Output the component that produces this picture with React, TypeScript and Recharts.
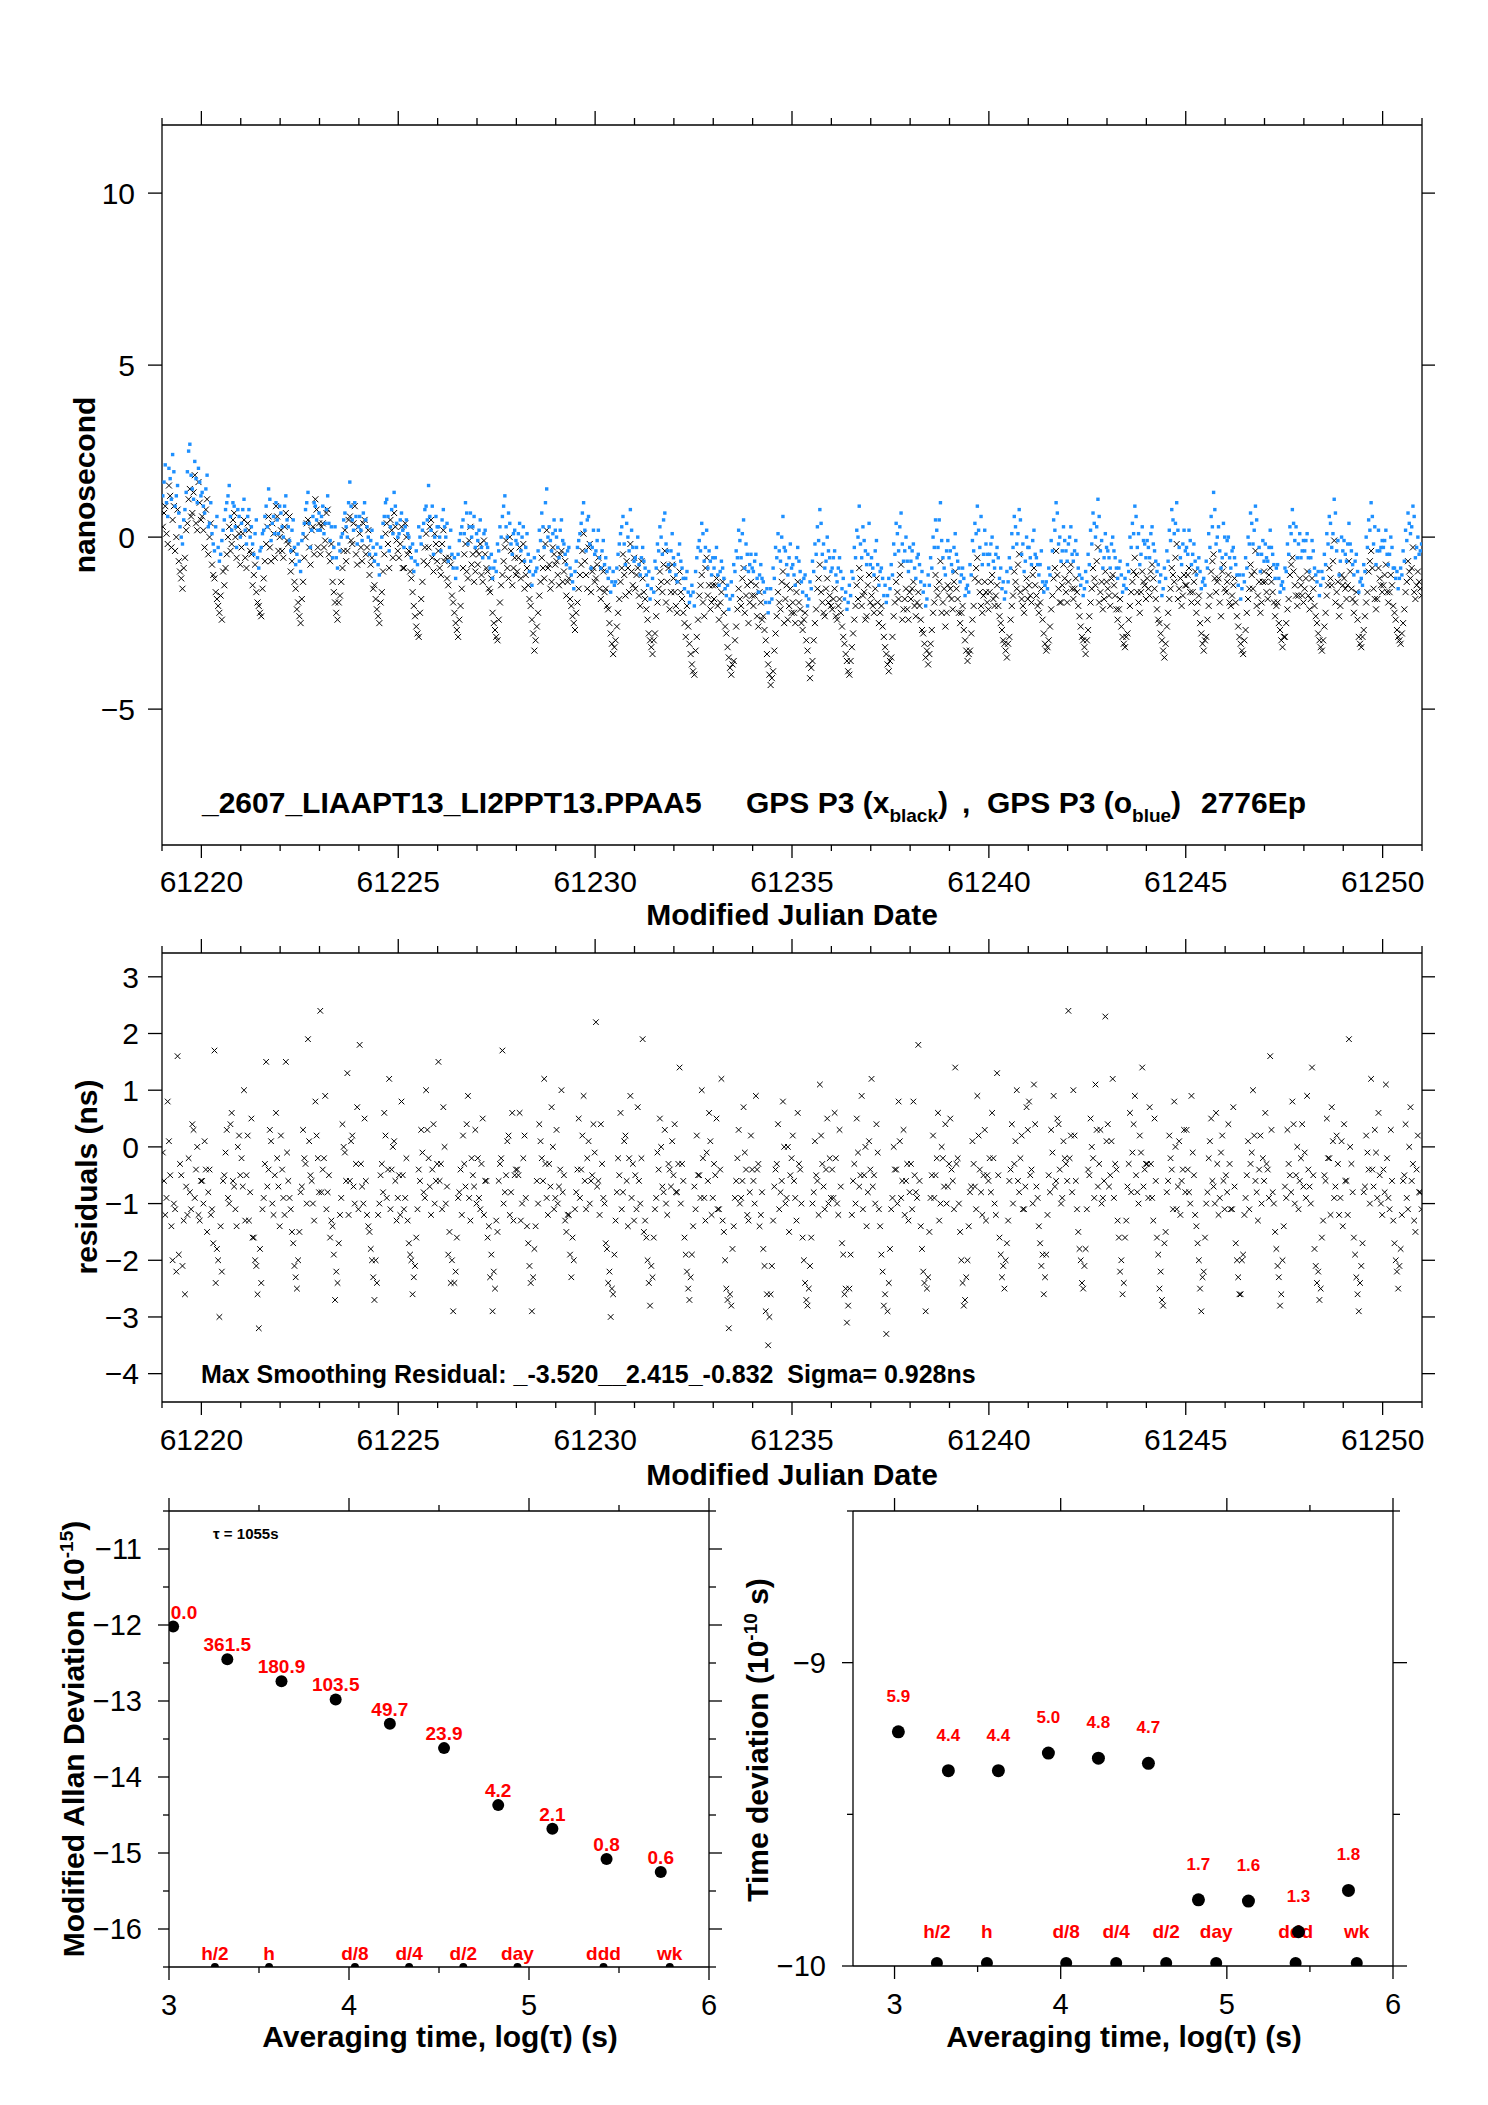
import React from "react";
import { ScatterChart, Scatter, XAxis, YAxis } from "recharts";

const FONT = "'Liberation Sans', Arial, Helvetica, sans-serif";
const BLUE = "#1e90ff";
const RED = "#ff0000";

// sampled epochs: first epoch (MJD) and spacing (1.5 h); the "B" sets sit half a step later
const MJD0 = 61219.02;
const STEP = 1 / 16;

// GPS P3 (x, black), ns — one row per day
const gpsBlack = [
  0.3, 0.9, -0.2, 1.2, 0.5, -0.4, 0.8, -1.0, -1.5, -0.6, 0.4, 1.4, 0.7, 1.8, 0.2, 1.0,
  0.6, -0.3, 1.1, 0.0, -0.8, -1.2, -1.8, -2.2, -2.4, -1.4, -0.5, 0.3, -0.2, 0.7, -0.6, 0.1,
  -0.3, 0.5, -0.9, 0.2, -0.5, -1.1, -1.6, -2.0, -2.3, -1.2, -0.2, 0.6, -0.7, 0.1, 0.9, -0.4,
  0.2, -0.6, 0.7, -0.2, -1.0, -0.4, -1.5, -1.9, -2.5, -1.3, 0.0, 0.5, -0.8, 0.3, 1.1, -0.3,
  -0.5, 0.4, -0.1, 0.8, -0.7, -1.3, -1.9, -2.4, -1.7, -0.9, 0.2, -0.4, 0.6, -0.2, 0.9, -0.8,
  0.1, -0.7, 0.5, -0.3, -1.1, -0.6, -1.4, -2.1, -2.5, -1.6, -0.5, 0.4, -0.9, 0.2, 0.7, -0.1,
  -0.6, 0.3, -0.9, 0.0, -0.4, -1.2, -2.0, -2.6, -2.9, -1.8, -0.7, 0.1, -0.3, 0.5, -1.0, -0.2,
  -0.4, -1.1, 0.2, -0.6, -1.4, -0.8, -1.9, -2.5, -2.9, -2.0, -0.9, -0.2, -1.2, 0.3, -0.5, -1.0,
  -0.8, -0.2, -1.3, -0.5, -1.0, -1.6, -2.2, -2.7, -3.0, -1.9, -1.1, -0.3, -0.9, 0.0, -1.4, -0.6,
  -1.0, -0.3, -0.7, -1.5, -0.9, -1.8, -2.4, -3.3, -2.6, -1.7, -0.6, -1.2, 0.2, -0.8, -1.3, -0.5,
  -0.7, -1.4, -0.4, -1.0, -1.7, -1.2, -2.0, -2.5, -2.2, -1.5, -0.8, 0.1, -1.1, -0.3, -1.6, -0.9,
  -1.2, -0.6, -1.8, -1.0, -1.5, -2.1, -2.8, -3.4, -3.0, -2.2, -1.3, -0.5, -1.7, -0.9, -0.2, -1.4,
  -1.5, -0.9, -2.0, -1.2, -1.8, -2.4, -3.0, -3.4, -2.8, -1.9, -1.0, -1.6, -0.4, -1.3, -2.1, -0.8,
  -1.6, -2.2, -1.0, -1.8, -2.5, -2.0, -3.1, -3.7, -4.0, -2.9, -1.7, -1.1, -2.3, -0.6, -1.4, -1.9,
  -1.8, -1.2, -2.4, -1.6, -2.2, -2.8, -3.5, -4.0, -3.6, -2.6, -1.5, -2.0, -0.9, -1.7, -2.5, -1.3,
  -2.0, -1.4, -2.6, -1.9, -2.3, -3.0, -3.7, -4.3, -3.9, -2.8, -1.6, -2.1, -1.0, -1.8, -2.4, -1.5,
  -1.9, -2.5, -1.3, -2.1, -2.7, -2.2, -3.3, -4.1, -3.6, -2.5, -1.5, -0.8, -1.9, -2.3, -1.2, -1.7,
  -2.1, -1.5, -2.4, -1.8, -2.6, -3.1, -3.6, -4.0, -3.2, -2.4, -1.4, -0.9, -2.0, -1.6, -2.3, -1.1,
  -1.7, -2.2, -1.2, -2.5, -2.0, -2.9, -3.4, -3.9, -3.5, -2.3, -1.3, -1.8, -0.8, -2.1, -1.5, -2.4,
  -1.8, -1.3, -2.3, -1.6, -2.4, -2.8, -3.5, -3.7, -3.1, -2.2, -1.1, -1.7, -0.7, -1.9, -2.6, -1.4,
  -1.5, -2.1, -1.0, -1.8, -2.5, -2.0, -3.0, -3.6, -3.3, -2.4, -1.2, -0.6, -1.6, -2.2, -1.3, -1.9,
  -1.6, -1.1, -2.0, -1.4, -2.3, -2.7, -3.1, -3.5, -2.9, -2.0, -1.0, -1.5, -0.5, -1.8, -2.2, -1.2,
  -1.4, -1.9, -0.9, -1.7, -2.2, -1.5, -2.8, -3.3, -3.0, -2.1, -1.2, -0.4, -1.5, -1.9, -0.8, -1.6,
  -1.3, -0.8, -1.8, -1.2, -2.0, -2.6, -3.0, -3.4, -2.7, -1.9, -0.9, -1.4, -0.3, -1.6, -2.1, -1.0,
  -1.5, -2.0, -1.1, -1.7, -2.4, -1.8, -2.9, -3.2, -2.8, -2.0, -1.3, -0.6, -1.6, -2.2, -1.0, -1.4,
  -1.2, -1.7, -0.8, -1.5, -2.1, -2.5, -3.0, -3.5, -2.6, -1.8, -0.9, -1.3, -0.2, -1.5, -2.0, -1.1,
  -1.4, -0.9, -1.9, -1.3, -2.2, -1.7, -2.8, -3.3, -2.9, -2.0, -1.0, -0.5, -1.6, -1.2, -2.3, -0.8,
  -1.6, -1.1, -2.0, -1.4, -1.9, -2.6, -3.1, -3.4, -2.7, -1.8, -0.8, -1.5, -0.4, -1.7, -2.2, -1.3,
  -1.3, -1.8, -0.9, -1.6, -2.3, -1.9, -2.7, -3.2, -2.9, -2.1, -1.1, -0.6, -1.4, -2.0, -1.2, -1.7,
  -1.5, -1.0, -2.1, -1.2, -2.0, -2.5, -3.0, -3.3, -2.6, -1.7, -0.9, -1.4, -0.1, -1.6, -2.3, -1.1,
  -1.2, -1.8, -0.7, -1.5, -2.2, -1.6, -2.9, -3.2, -2.7, -1.9, -1.0, -0.4, -1.5, -2.1, -0.9, -1.4,
  -1.4, -0.8, -1.9, -1.1, -2.0, -2.4, -2.9, -3.1, -2.5, -1.6, -0.7, -1.2, -0.3, -1.8, -1.0, -1.5,
];
const gpsBlackB = [
  0.7, 0.1, 1.5, -0.3, 0.9, 0.0, -0.7, -1.2, -0.9, 0.2, 1.1, 0.6, 1.3, 0.4, 1.6, 0.5,
  0.2, 0.8, -0.5, 0.4, -1.1, -1.6, -2.0, -1.7, -1.0, -0.9, 0.0, -0.4, 0.5, 0.0, 0.3, -0.8,
  0.1, -0.6, 0.4, -0.4, -1.4, -0.8, -1.9, -2.2, -1.5, -0.7, 0.3, -0.3, 0.4, -0.6, 0.6, 0.0,
  -0.4, 0.3, -0.1, 0.6, -0.7, -1.3, -2.1, -2.3, -1.8, -0.6, 0.4, -0.3, 0.2, -0.5, 0.8, 0.4,
  0.3, -0.3, 0.7, -0.5, -0.2, -1.6, -2.2, -1.9, -1.3, -0.4, -0.7, 0.5, -0.1, 0.4, -0.5, 0.3,
  -0.3, 0.4, -0.5, 0.2, -0.8, -1.5, -1.8, -2.3, -1.9, -1.0, 0.1, -0.2, 0.5, -0.6, 0.3, -0.4,
  -0.2, -0.9, 0.4, -0.5, -1.0, -1.6, -2.3, -2.8, -2.2, -1.3, -0.3, -0.8, 0.3, -0.6, 0.1, -0.7,
  -0.9, -0.2, -0.7, -1.2, -0.6, -1.7, -2.2, -2.7, -2.4, -1.5, -0.5, -1.0, -0.1, -0.8, -1.3, -0.4,
  -0.5, -1.1, -0.1, -0.9, -1.5, -1.2, -2.5, -2.9, -2.4, -1.4, -0.7, -0.1, -1.2, -0.4, -0.9, -1.1,
  -0.6, -1.2, -0.2, -1.1, -1.4, -2.0, -2.8, -3.0, -2.2, -1.3, -0.9, -0.2, -0.9, -1.5, -0.3, -0.8,
  -1.1, -0.5, -1.3, -0.7, -1.3, -1.8, -2.3, -2.7, -1.9, -1.1, -0.4, -0.7, -1.5, -0.2, -1.0, -1.3,
  -0.8, -1.5, -0.9, -1.6, -2.0, -2.5, -3.1, -3.2, -2.6, -1.8, -0.9, -1.1, -0.7, -1.6, -1.0, -0.6,
  -1.1, -1.7, -0.7, -1.6, -2.1, -2.8, -3.2, -3.0, -2.3, -1.5, -1.3, -0.8, -1.9, -0.9, -1.6, -1.2,
  -2.0, -1.3, -1.6, -2.2, -2.9, -2.6, -3.4, -3.9, -3.3, -2.4, -1.4, -1.9, -0.9, -1.7, -2.1, -1.4,
  -1.4, -2.0, -1.9, -1.3, -2.6, -3.2, -3.8, -3.7, -3.0, -2.1, -1.8, -1.2, -2.2, -1.4, -1.9, -1.7,
  -1.7, -2.3, -1.6, -2.4, -2.7, -3.4, -4.0, -4.1, -3.3, -2.3, -1.9, -1.3, -2.5, -1.4, -2.0, -2.2,
  -2.2, -1.6, -1.9, -2.5, -2.4, -3.0, -3.7, -3.8, -3.0, -2.1, -1.2, -1.6, -2.2, -1.5, -1.9, -2.0,
  -1.8, -2.3, -2.0, -2.2, -2.9, -3.4, -3.9, -3.6, -2.8, -2.0, -1.8, -1.2, -1.7, -2.4, -1.4, -1.9,
  -2.0, -1.5, -1.9, -2.2, -2.6, -3.2, -3.7, -3.6, -2.9, -1.9, -1.6, -1.1, -2.4, -1.8, -2.1, -1.6,
  -1.5, -2.0, -1.9, -2.0, -2.7, -3.1, -3.3, -3.4, -2.7, -1.9, -1.5, -1.3, -2.2, -1.5, -2.2, -1.7,
  -1.8, -1.3, -1.5, -2.2, -2.2, -2.7, -3.3, -3.4, -2.8, -2.0, -0.9, -1.3, -2.0, -1.7, -1.6, -2.1,
  -1.3, -1.8, -1.7, -2.0, -2.5, -3.0, -3.3, -3.1, -2.4, -1.7, -1.3, -0.8, -1.6, -2.0, -1.5, -1.8,
  -1.7, -1.1, -1.4, -2.0, -1.9, -2.4, -3.1, -3.2, -2.6, -1.7, -0.9, -1.1, -1.9, -1.4, -1.2, -1.9,
  -1.0, -1.5, -1.5, -1.6, -2.3, -2.9, -3.2, -3.0, -2.3, -1.5, -1.2, -0.7, -1.9, -1.3, -1.8, -1.3,
  -1.7, -1.2, -1.4, -2.1, -2.1, -2.6, -3.1, -2.9, -2.4, -1.6, -1.0, -1.1, -1.9, -1.6, -1.3, -1.8,
  -1.5, -1.0, -1.2, -1.8, -2.4, -2.8, -3.3, -3.1, -2.2, -1.5, -1.1, -0.6, -1.8, -1.2, -1.7, -1.4,
  -1.1, -1.6, -1.6, -1.0, -1.9, -2.5, -3.1, -3.0, -2.4, -1.7, -0.7, -1.2, -1.3, -1.9, -1.0, -1.5,
  -1.3, -1.9, -1.7, -1.2, -2.3, -2.9, -3.3, -3.0, -2.2, -1.5, -1.1, -1.0, -2.0, -1.3, -1.9, -1.0,
  -1.6, -1.1, -1.3, -1.9, -2.0, -2.5, -3.0, -2.9, -2.5, -1.8, -0.8, -1.0, -1.7, -1.7, -1.4, -1.9,
  -1.2, -1.7, -1.8, -1.5, -2.3, -2.8, -3.2, -3.0, -2.2, -1.4, -1.2, -0.7, -1.9, -1.3, -2.0, -1.4,
  -1.5, -1.4, -1.0, -1.8, -1.9, -2.4, -3.1, -2.9, -2.3, -1.6, -0.7, -0.9, -1.8, -1.8, -1.2, -1.6,
  -1.1, -1.6, -1.6, -1.4, -2.2, -2.7, -3.0, -2.8, -2.1, -1.3, -1.0, -0.9, -1.6, -1.4, -1.3, -1.7,
];

// GPS P3 (o, blue), ns — one row per day
const gpsBlue = [
  1.2, 2.1, 0.6, 1.7, 2.4, 0.9, 1.5, 0.3, -0.2, 0.8, 1.9, 2.7, 1.4, 2.2, 1.0, 1.6,
  1.3, 0.7, 1.8, 0.4, 0.1, -0.4, 0.6, -0.7, -0.1, 0.5, 1.0, 1.5, 0.2, 0.9, -0.3, 0.6,
  0.4, 1.1, -0.2, 0.8, 0.3, -0.5, 0.5, -0.9, -0.3, 0.2, 0.9, 1.4, -0.1, 0.6, 1.0, 0.1,
  0.7, 0.0, 1.2, 0.3, -0.4, 0.5, -0.8, -0.2, -1.0, 0.1, 0.8, 1.3, -0.3, 0.6, 0.9, 0.2,
  0.2, 0.9, 0.4, 1.2, -0.1, -0.6, 0.3, -0.9, -0.4, 0.1, 0.7, 0.0, 1.6, 0.5, 1.0, -0.2,
  0.6, -0.1, 1.0, 0.3, -0.5, 0.2, -0.7, -0.2, -1.1, 0.0, 0.6, 1.1, -0.4, 0.8, 1.3, 0.4,
  0.1, 0.7, -0.3, 0.5, 0.0, -0.6, -1.0, -0.4, 0.3, -0.2, 0.4, 0.9, 1.5, 0.2, -0.5, 0.6,
  0.3, -0.4, 0.8, 0.0, -0.7, 0.2, -0.9, -1.2, -0.5, 0.1, 0.5, 1.0, -0.2, 0.7, 0.3, -0.3,
  -0.1, 0.5, -0.6, 0.2, -0.3, -0.9, -1.2, -0.7, -0.2, 0.3, 0.6, 1.2, 0.0, 0.4, -0.5, 0.2,
  -0.2, 0.4, 0.0, -0.7, 0.1, -1.0, -1.4, -0.6, -0.9, 0.2, 0.7, -0.3, 1.4, 0.3, -0.4, 0.5,
  0.0, -0.6, 0.5, -0.2, -0.8, -0.3, -1.1, -1.5, -0.7, -0.1, 0.4, 1.0, -0.4, 0.6, -0.9, 0.2,
  -0.4, 0.2, -0.9, -0.1, -0.6, -1.2, -1.6, -1.0, -1.3, -0.5, 0.1, 0.6, -0.8, 0.0, 0.8, -0.3,
  -0.6, 0.0, -1.1, -0.3, -0.9, -1.4, -1.8, -1.2, -0.7, -0.2, 0.3, -0.5, 0.7, -0.4, -1.0, 0.1,
  -0.8, -1.3, -0.2, -0.9, -1.5, -1.0, -1.9, -1.4, -2.0, -0.6, -0.1, 0.4, -0.7, 0.2, -0.4, -1.1,
  -0.9, -0.3, -1.4, -0.7, -1.2, -1.7, -2.1, -1.3, -0.8, -0.4, 0.2, -0.6, 0.5, -0.2, -1.0, -0.5,
  -1.0, -0.5, -1.6, -0.8, -1.3, -1.9, -2.2, -1.5, -0.9, -0.3, 0.1, -0.7, 0.6, -0.4, -1.1, -0.2,
  -0.8, -1.4, -0.3, -1.0, -1.6, -1.1, -2.0, -1.3, -0.7, -0.2, 0.3, 0.8, -0.5, -0.9, 0.0, -0.6,
  -0.9, -0.4, -1.3, -0.6, -1.5, -1.8, -2.1, -1.4, -1.0, -0.3, 0.2, 0.9, -0.6, -0.1, -0.8, 0.4,
  -0.6, -1.1, -0.1, -1.4, -0.9, -1.7, -1.9, -1.2, -0.8, -0.2, 0.4, -0.4, 0.7, -0.7, 0.0, -1.0,
  -0.7, -0.2, -1.2, -0.5, -1.3, -1.6, -2.0, -1.1, -0.6, 0.0, 0.5, -0.3, 1.0, -0.6, -1.1, -0.1,
  -0.4, -1.0, 0.1, -0.7, -1.3, -0.9, -1.7, -1.4, -0.8, -0.1, 0.4, 0.9, -0.3, -0.8, 0.2, -0.5,
  -0.5, 0.0, -0.9, -0.3, -1.2, -1.5, -1.8, -1.0, -0.6, 0.1, 0.6, -0.2, 0.8, -0.5, -1.0, 0.0,
  -0.3, -0.8, 0.2, -0.6, -1.1, -0.4, -1.6, -1.3, -0.9, -0.1, 0.5, 1.0, -0.2, -0.7, 0.3, -0.4,
  -0.2, 0.3, -0.7, -0.1, -0.9, -1.4, -1.7, -1.0, -0.5, 0.2, 0.7, 0.0, 1.1, -0.4, -0.9, 0.1,
  -0.4, -0.9, 0.0, -0.6, -1.2, -0.7, -1.6, -1.2, -0.8, 0.0, 0.4, 0.9, -0.3, -0.8, 0.3, -0.2,
  -0.1, -0.6, 0.3, -0.4, -1.0, -1.3, -1.7, -0.9, -0.4, 0.2, 0.8, 0.1, 1.0, -0.3, -0.8, 0.2,
  -0.3, 0.2, -0.8, -0.2, -1.1, -0.6, -1.5, -1.2, -0.7, 0.1, 0.6, 1.3, -0.2, 0.3, -0.9, 0.4,
  -0.5, 0.0, -0.9, -0.3, -0.8, -1.4, -1.8, -1.1, -0.6, 0.0, 0.7, -0.2, 0.9, -0.5, -1.0, -0.1,
  -0.2, -0.7, 0.2, -0.5, -1.2, -0.8, -1.6, -1.3, -0.9, -0.2, 0.3, 0.8, -0.1, -0.6, 0.1, -0.4,
  -0.4, 0.1, -1.0, -0.1, -0.9, -1.3, -1.7, -1.0, -0.5, 0.1, 0.6, -0.3, 1.1, -0.4, -1.1, 0.0,
  -0.1, -0.7, 0.4, -0.4, -1.1, -0.5, -1.6, -1.2, -0.8, 0.0, 0.5, 1.0, -0.2, -0.8, 0.2, -0.3,
  -0.3, 0.2, -0.8, 0.0, -0.9, -1.2, -1.5, -0.9, -0.4, 0.2, 0.7, 0.1, 0.9, -0.6, 0.0, -0.4,
];
const gpsBlueB = [
  1.6, 1.0, 2.0, 1.1, 1.9, 1.2, 0.7, 0.0, 0.5, 1.3, 2.5, 1.8, 1.1, 1.7, 2.0, 1.2,
  0.9, 1.4, 0.3, 1.0, -0.2, 0.3, -0.3, -0.5, 0.2, 0.8, 1.2, 0.6, 1.0, 0.3, 0.8, 0.0,
  0.8, 0.2, 0.6, 0.0, -0.2, 0.1, -0.6, -0.4, 0.1, 0.6, 0.3, 1.1, 0.4, 0.1, 0.5, 0.9,
  0.3, 0.9, 0.5, -0.1, 0.2, -0.3, -0.5, -0.7, -0.1, 0.4, 1.0, 0.4, 0.2, 1.0, 0.5, 0.7,
  0.6, 0.1, 0.8, 0.4, 0.3, -0.3, -0.6, -0.2, 0.0, 0.5, 0.3, 1.0, 0.9, 0.2, 0.6, 0.3,
  0.2, 0.7, 0.5, 0.0, -0.1, -0.3, -0.5, -0.8, -0.3, 0.4, 1.0, 0.6, 0.3, 0.1, 0.9, 0.0,
  0.5, 0.2, 0.3, 0.1, -0.3, -0.2, -0.7, -0.8, 0.0, 0.2, 0.8, 0.5, 0.6, 0.9, 0.0, 0.3,
  0.0, 0.5, 0.3, 0.4, -0.3, -0.5, -0.6, -0.9, -0.1, 0.3, 0.1, 0.7, 0.3, 0.0, 0.6, 0.1,
  0.2, -0.3, 0.1, -0.2, -0.6, -0.5, -0.9, -1.0, -0.4, 0.0, 0.9, 0.3, 0.7, -0.2, 0.1, -0.1,
  0.1, -0.4, 0.3, -0.3, -0.5, -0.7, -1.1, -1.0, -0.4, -0.1, 0.3, 1.0, 0.0, -0.1, 0.1, 0.2,
  -0.3, 0.2, -0.1, -0.5, -0.4, -0.9, -1.3, -1.0, -0.3, 0.1, 0.7, 0.2, 0.5, -0.2, -0.3, -0.5,
  -0.1, -0.6, -0.4, -0.8, -1.0, -0.9, -1.3, -1.4, -0.9, -0.2, 0.3, -0.2, 0.4, -0.4, 0.2, -0.7,
  -0.3, -0.8, -0.6, -0.7, -1.1, -1.0, -1.5, -1.6, -0.9, -0.4, 0.0, 0.5, -0.2, -0.8, -0.4, -0.6,
  -1.1, -0.5, -0.7, -1.2, -1.2, -1.6, -1.7, -1.6, -1.0, -0.3, -0.4, 0.1, -0.3, -0.9, -0.7, -0.6,
  -0.6, -1.1, -1.0, -0.9, -1.5, -1.4, -1.8, -1.7, -1.0, -0.6, -0.1, 0.1, -0.9, -0.5, -0.8, -0.9,
  -0.7, -1.2, -1.1, -1.2, -1.6, -1.5, -1.9, -1.8, -1.2, -0.6, -0.4, 0.0, -0.3, -0.8, -0.6, -0.9,
  -1.1, -0.6, -0.7, -1.3, -1.2, -1.7, -1.8, -1.5, -1.0, -0.5, -0.1, 0.4, -0.2, -0.7, -0.4, -1.0,
  -0.6, -1.1, -0.9, -1.0, -1.2, -1.6, -1.9, -1.7, -1.2, -0.6, 0.0, -0.2, 0.3, -0.4, -0.5, -0.8,
  -0.9, -0.4, -0.8, -1.0, -1.2, -1.4, -1.7, -1.5, -1.1, -0.5, 0.1, 0.3, -0.2, -0.4, -0.7, -0.3,
  -0.4, -0.9, -0.6, -0.8, -1.0, -1.4, -1.8, -1.4, -0.9, -0.3, 0.2, 0.5, -0.1, -0.9, -0.4, -0.6,
  -0.8, -0.3, -0.5, -0.9, -1.1, -1.2, -1.5, -1.6, -1.1, -0.4, 0.1, 0.2, 0.6, -0.5, -0.2, -0.8,
  -0.2, -0.7, -0.5, -0.6, -0.9, -1.3, -1.6, -1.3, -0.9, -0.3, 0.3, 0.1, 0.5, -0.2, -0.7, -0.3,
  -0.6, -0.1, -0.5, -0.8, -0.8, -1.3, -1.4, -1.5, -1.1, -0.4, 0.2, 0.7, 0.0, -0.4, -0.1, -0.7,
  0.0, -0.5, -0.4, -0.5, -1.1, -1.2, -1.5, -1.3, -0.8, -0.2, 0.4, 0.3, 0.6, -0.1, -0.6, -0.3,
  -0.6, -0.2, -0.4, -0.9, -0.9, -1.1, -1.4, -1.5, -1.0, -0.3, 0.1, 0.6, 0.1, -0.5, -0.1, -0.6,
  -0.3, 0.1, -0.2, -0.7, -0.8, -1.1, -1.5, -1.2, -0.7, -0.1, 0.5, 0.4, 0.2, -0.6, -0.2, -0.4,
  -0.5, -0.1, -0.5, -0.7, -0.9, -1.0, -1.3, -1.4, -0.9, -0.3, 0.3, 0.8, 0.0, -0.4, -0.6, 0.0,
  -0.1, -0.6, -0.4, -0.6, -1.1, -1.1, -1.5, -1.3, -0.9, -0.2, 0.4, 0.2, 0.5, -0.3, -0.5, -0.7,
  -0.6, -0.3, -0.3, -0.8, -0.9, -1.2, -1.4, -1.5, -1.0, -0.5, 0.1, 0.4, 0.3, -0.2, -0.6, -0.1,
  -0.1, -0.6, -0.6, -0.4, -1.1, -1.0, -1.4, -1.2, -0.8, -0.2, 0.4, 0.1, 0.7, -0.1, -0.7, -0.4,
  -0.5, -0.2, -0.2, -0.8, -0.7, -1.0, -1.3, -1.4, -1.0, -0.3, 0.2, 0.6, 0.3, -0.4, -0.4, -0.1,
  -0.1, -0.5, -0.5, -0.3, -0.9, -1.0, -1.2, -1.1, -0.7, -0.1, 0.4, 0.3, 0.6, -0.3, -0.5, -0.2,
];

// smoothing residuals, ns — one row per day
const residuals = [
  -0.1, -1.2, 0.8, -0.5, -2.0, -1.1, 1.6, -0.3, -2.1, -2.6, -1.2, -0.8, 0.4, -0.9, 0.0, -1.3,
  -0.6, 0.1, -1.5, -0.4, -1.1, 1.7, -1.8, -3.0, -2.2, -0.5, 0.3, -1.0, 0.6, -0.7, -1.4, 0.2,
  -0.2, 1.0, -0.5, -1.3, 0.5, -1.6, -2.1, -3.2, -2.4, -0.9, 1.5, -0.4, 0.1, -1.2, 0.6, -0.7,
  0.2, -0.9, 1.5, -0.6, -1.1, -1.7, -2.3, -2.0, -0.8, 0.3, -0.3, 1.9, -0.5, -1.0, 0.8, -0.2,
  2.4, -0.4, 0.9, -0.8, -1.6, -1.4, -2.7, -2.4, -1.2, 0.4, -0.1, 1.3, -0.6, 0.2, -1.0, 0.7,
  1.8, -0.7, 0.5, -1.2, -1.5, -2.0, -2.7, -2.4, -1.0, -0.3, 0.6, -0.9, 1.2, -0.4, 0.1, -1.3,
  -0.5, 0.8, -1.1, -0.2, -1.7, -2.0, -2.3, -1.6, -0.4, 0.3, -0.8, 1.0, -0.2, -1.2, 0.4, -0.6,
  1.5, -0.3, 0.7, -1.0, -1.9, -2.4, -2.9, -2.2, -0.9, -0.4, 0.2, -0.7, 0.9, -1.3, -0.5, 0.3,
  -0.2, -1.1, 0.5, -0.6, -1.6, -2.3, -2.9, -2.5, -1.5, -0.3, 1.7, -0.8, 0.1, -1.2, 0.6, -0.5,
  -0.4, 0.6, -1.0, 0.2, -1.4, -2.1, -2.9, -1.8, -0.6, 0.4, -0.2, 1.2, -0.9, -0.3, 0.7, -1.1,
  0.3, -0.7, 1.0, -0.5, -1.5, -1.2, -2.3, -2.0, -0.8, 0.5, -0.4, 0.9, -1.1, 0.1, -0.6, 0.4,
  2.2, -0.6, 0.4, -0.9, -1.7, -2.4, -3.0, -2.6, -1.3, -0.2, 0.6, -0.8, 0.2, -1.4, 0.9, -0.3,
  -0.5, 0.7, -1.0, 1.9, -1.3, -2.0, -2.8, -2.3, -1.1, -0.1, 0.5, -0.7, 0.3, -1.2, -0.4, 0.1,
  0.4, -0.8, 1.4, -0.3, -1.6, -2.2, -2.7, -1.9, -0.7, 0.2, -0.5, 1.0, -0.9, -0.1, 0.6, -1.2,
  -0.3, 0.5, -1.1, 1.2, -1.5, -2.5, -3.2, -2.8, -1.4, -0.6, 0.3, -0.9, 0.7, -0.4, -1.3, 0.2,
  -0.6, 0.9, -0.3, -1.2, -1.8, -2.9, -3.5, -2.6, -1.3, -0.4, 0.4, -0.8, 0.8, -1.0, 0.0, -0.5,
  0.2, -0.9, 0.6, -0.4, -1.6, -2.4, -2.8, -2.1, -1.0, 0.1, -0.6, 1.1, -0.3, -1.1, 0.5, -0.2,
  -0.4, 0.6, -1.0, 0.3, -1.7, -2.6, -3.1, -2.5, -1.2, -0.3, 0.5, -0.7, 0.9, -0.5, -1.4, 0.1,
  1.2, -0.5, 0.4, -1.1, -1.9, -2.8, -3.3, -2.4, -1.1, 0.0, -0.4, 0.8, -0.9, 0.3, -0.6, -1.3,
  -0.3, 0.8, -0.8, 1.8, -1.4, -2.2, -2.9, -2.3, -0.9, 0.2, -0.5, 0.6, -1.0, -0.2, 0.4, -0.7,
  0.5, -0.6, 1.4, -0.2, -1.5, -2.4, -2.7, -2.0, -0.8, 0.1, -0.7, 0.9, -0.4, -1.2, 0.3, -0.5,
  -0.2, 0.6, -1.0, 1.3, -1.6, -2.3, -2.5, -1.7, -0.6, 0.4, -0.3, 1.0, -0.8, 0.2, -1.1, 0.7,
  0.8, -0.4, 1.1, -0.7, -1.4, -2.1, -2.6, -1.9, -0.5, 0.3, 0.9, -0.6, 0.4, -1.0, 0.1, -0.3,
  2.4, 0.2, 1.0, -0.6, -1.5, -2.0, -2.5, -1.8, -0.4, 0.5, -0.2, 1.1, -0.7, 0.3, -0.9, 2.3,
  0.4, -0.5, 1.2, -0.3, -1.3, -2.2, -2.6, -1.6, -0.7, 0.6, -0.1, 0.9, -0.8, 0.2, 1.4, -0.4,
  -0.3, 0.7, -0.9, 0.5, -1.6, -2.5, -2.7, -1.7, -0.8, 0.2, -0.4, 0.8, -1.1, 0.1, -0.6, 0.3,
  0.3, -0.8, 0.9, -0.5, -1.4, -2.0, -2.9, -2.2, -1.0, -0.2, 0.5, -0.7, 0.6, -1.2, -0.1, -0.6,
  -0.5, 0.4, -1.1, 0.7, -1.7, -2.3, -2.6, -1.9, -0.9, 0.1, -0.3, 1.0, -0.6, -1.3, 0.2, -0.2,
  0.6, -0.4, 1.6, -0.8, -1.5, -2.1, -2.8, -2.0, -0.7, 0.3, -0.5, 0.8, -1.0, 0.0, -0.6, 0.4,
  -0.1, 0.9, -0.7, 1.4, -1.8, -2.4, -2.7, -1.6, -0.5, 0.5, -0.2, 0.7, -0.9, 0.2, -1.2, 0.1,
  0.4, -0.6, 1.9, -0.3, -1.6, -2.3, -2.9, -2.1, -0.8, 0.2, -0.4, 1.2, -0.7, -0.1, 0.6, -1.0,
  -0.4, 1.1, -0.9, 0.3, -1.3, -2.0, -2.5, -1.8, -0.6, 0.4, -1.1, 0.7, -0.3, -1.5, 0.2, -0.8,
];
const residualsB = [
  -0.6, -0.9, 0.1, -1.4, -1.0, -2.2, -1.9, -0.5, -1.3, -0.7, -0.2, -1.1, 0.3, -0.4, -1.2, -0.6,
  -1.0, -0.4, -0.8, -1.2, -1.7, -2.4, -2.0, -1.4, -0.6, -0.1, -0.9, 0.4, -0.6, -1.1, 0.0, -0.5,
  -0.7, -1.3, 0.2, -0.8, -1.6, -2.0, -2.6, -1.8, -1.1, -0.3, -0.7, 0.3, -1.0, -0.5, -0.2, -1.4,
  -0.4, -1.2, -0.1, -0.9, -1.5, -2.1, -2.5, -1.5, -0.7, -0.2, -1.0, 0.1, -0.6, -1.3, 0.2, -0.8,
  -0.8, -0.2, -1.1, -0.5, -1.3, -1.9, -2.2, -1.7, -0.9, 0.0, -0.6, -1.2, 0.1, -0.7, -0.3, -1.1,
  -0.3, -1.0, -0.6, -1.4, -1.8, -2.3, -2.0, -1.2, -0.5, -0.8, 0.2, -0.4, -1.1, 0.0, -0.6, -0.9,
  -1.2, -0.5, -0.9, -1.3, -1.9, -2.6, -2.1, -1.1, -0.6, -0.1, -0.9, 0.3, -0.7, -0.4, -1.0, -0.3,
  -0.6, -1.1, 0.0, -0.7, -1.5, -2.0, -2.4, -1.6, -0.8, -1.2, -0.3, 0.4, -0.9, -0.2, -0.7, -1.0,
  -0.9, -0.3, -1.2, -0.6, -1.4, -1.9, -2.2, -1.3, -0.6, -0.2, -1.0, -0.5, 0.2, -0.8, -1.3, -0.4,
  -0.5, -1.3, -0.2, -0.9, -1.7, -2.4, -2.3, -1.4, -1.0, 0.1, -0.6, -0.3, -1.2, -0.7, 0.0, -0.9,
  -1.0, -0.4, -0.8, -1.3, -1.2, -1.9, -1.6, -1.1, -0.4, -0.9, 0.2, -0.6, -0.2, -1.0, -0.5, -0.1,
  -0.7, -1.2, -0.3, -1.0, -1.8, -2.2, -2.5, -1.9, -0.8, -0.5, -1.1, 0.1, -0.6, -0.2, -0.9, -1.3,
  -1.1, -0.6, -0.2, -1.5, -1.6, -2.4, -2.1, -1.6, -0.9, -0.4, 0.0, -0.8, -1.0, -0.3, -0.7, -0.5,
  -0.8, -0.3, -1.0, -0.6, -1.9, -2.5, -2.3, -1.4, -1.1, -0.5, -0.9, -0.2, -1.3, -0.6, 0.1, -0.9,
  -0.5, -1.1, -0.4, -1.3, -2.0, -2.7, -2.6, -1.8, -0.9, -0.2, -1.0, -0.6, -0.1, -1.2, -0.8, -0.4,
  -1.0, -0.4, -1.4, -0.8, -2.1, -2.6, -3.0, -2.1, -0.7, -0.3, -1.1, -0.6, 0.0, -0.9, -1.5, -0.2,
  -0.6, -1.3, -0.3, -1.0, -2.0, -2.7, -2.5, -1.6, -0.8, -0.5, -1.2, 0.2, -0.7, -0.4, -1.0, -0.9,
  -0.9, -0.2, -1.2, -0.7, -1.9, -2.5, -2.8, -1.9, -0.6, -1.0, -0.1, -0.5, -1.1, 0.0, -0.8, -0.4,
  -0.7, -1.0, -0.1, -1.4, -2.2, -2.6, -2.9, -1.8, -0.9, -0.4, -1.0, 0.1, -0.6, -1.2, -0.3, -0.8,
  -1.1, -0.5, -0.9, -0.6, -1.8, -2.4, -2.5, -1.5, -0.5, -0.9, -0.2, -1.3, 0.0, -0.7, -1.0, -0.3,
  -0.4, -1.1, -0.3, -1.0, -2.0, -2.8, -2.3, -1.4, -0.7, -0.3, -1.1, 0.2, -0.8, -0.5, -1.3, -0.6,
  -0.8, -0.2, -1.2, -0.5, -1.9, -2.1, -2.0, -1.3, -0.4, -1.0, 0.1, -0.6, -0.2, -1.1, -0.7, 0.3,
  -0.5, -1.0, 0.4, -0.9, -1.7, -1.9, -2.3, -1.2, -0.8, -0.1, -0.7, 0.5, -0.4, -0.9, -0.2, -0.6,
  -0.2, -0.8, 0.2, -1.1, -1.8, -2.4, -2.1, -1.1, -0.5, 0.0, -0.9, 0.3, -0.3, -1.0, -0.6, 0.1,
  -0.7, 0.1, -0.9, -0.4, -1.6, -2.0, -2.4, -1.3, -0.3, -0.8, 0.4, -0.5, -1.0, -0.1, -0.7, -0.3,
  -0.9, -0.3, -1.3, -0.6, -1.9, -2.2, -2.8, -1.5, -0.6, -0.2, -1.1, 0.0, -0.7, -1.2, -0.4, -0.8,
  -0.4, -1.0, -0.1, -1.2, -1.7, -2.5, -2.3, -1.6, -0.8, 0.1, -0.6, -1.0, -0.3, -0.9, 0.2, -1.1,
  -0.8, -0.3, -1.1, -0.7, -2.0, -2.6, -2.0, -1.2, -0.5, -1.1, -0.1, 0.2, -0.8, -0.4, -1.0, -0.6,
  -0.3, -0.9, 0.3, -1.0, -1.8, -2.3, -2.6, -1.4, -0.9, -0.3, -0.8, 0.4, -0.5, -1.1, -0.2, -0.7,
  -0.9, -0.4, -1.0, -0.5, -2.1, -2.2, -2.5, -1.3, -0.6, -0.2, -1.2, 0.1, -0.7, -0.3, -0.9, -1.4,
  -0.6, -1.2, 0.0, -0.8, -1.9, -2.6, -2.4, -1.7, -0.7, -0.1, -1.0, -0.4, 0.3, -0.9, -0.5, -1.2,
  -0.8, -0.2, -1.1, -0.6, -1.7, -2.2, -2.1, -1.2, -0.5, -0.9, 0.0, -0.6, -1.3, -0.4, -0.8, -1.1,
];

const mjdDays = [
  61219, 61220, 61221, 61222, 61223, 61224, 61225, 61226, 61227, 61228, 61229,
  61230, 61231, 61232, 61233, 61234, 61235, 61236, 61237, 61238, 61239, 61240,
  61241, 61242, 61243, 61244, 61245, 61246, 61247, 61248, 61249, 61250, 61251,
];
const mjdMajor = [61220, 61225, 61230, 61235, 61240, 61245, 61250];
const nsTicks = [-5, 0, 5, 10];
const resTicks = [-4, -3, -2, -1, 0, 1, 2, 3];

// stability panels
const logTau = [3.023, 3.324, 3.625, 3.926, 4.227, 4.528, 4.829, 5.13, 5.431, 5.732];
const modAdev = [-12.02, -12.45, -12.74, -12.98, -13.3, -13.62, -14.37, -14.68, -15.08, -15.25];
const adevNotes = ["0.0", "361.5", "180.9", "103.5", "49.7", "23.9", "4.2", "2.1", "0.8", "0.6"];
const tdev = [-9.228, -9.356, -9.356, -9.298, -9.315, -9.332, -9.782, -9.786, -9.887, -9.751];
const tdevNotes = ["5.9", "4.4", "4.4", "5.0", "4.8", "4.7", "1.7", "1.6", "1.3", "1.8"];
const spanNames = ["h/2", "h", "d/8", "d/4", "d/2", "day", "ddd", "wk"];
const spanLog = [3.255, 3.556, 4.033, 4.334, 4.635, 4.936, 5.414, 5.782];
const logMajor = [3, 4, 5, 6];
const logAll = [3, 3.5, 4, 4.5, 5, 5.5, 6];
const adevMajor = [-16, -15, -14, -13, -12, -11];
const adevAll = [-16.5, -16, -15.5, -15, -14.5, -14, -13.5, -13, -12.5, -12, -11.5, -11, -10.5];
const tdevMajor = [-10, -9];
const tdevAll = [-10, -9.5, -9, -8.5];

const series = (vals: number[], shift = 0) =>
  vals.map((y, i) => ({ x: MJD0 + shift + i * STEP, y }));
const blackPts = [...series(gpsBlack), ...series(gpsBlackB, STEP / 2)];
const bluePts = [...series(gpsBlue), ...series(gpsBlueB, STEP / 2)];
const residPts = [...series(residuals), ...series(residualsB, STEP / 2)];
const adevPts = logTau.map((x, i) => ({ x, y: modAdev[i], note: adevNotes[i] }));
const tdevPts = logTau.map((x, i) => ({ x, y: tdev[i], note: tdevNotes[i] }));
const adevSpans = spanLog.map((x, i) => ({ x, y: -16.5, note: spanNames[i] }));
const tdevSpans = spanLog.map((x, i) => ({ x, y: -9.99, note: spanNames[i] }));

const fmt = (v: number) => (v < 0 ? "\u2212" + Math.abs(v) : String(v));
const axisLine = { stroke: "#000", strokeWidth: 1.3 };

type Side = "top" | "bottom" | "left" | "right";

// draws major / minor tick marks outward and labels on majors
const tickMaker =
  (side: Side, major: number[], majorLen: number, minorLen: number, label = false, gap = 13, fs = 29) =>
  (props: any) => {
    const { x, y, payload } = props;
    const v = payload.value;
    const isMajor = major.some((m) => Math.abs(m - v) < 1e-6);
    const len = isMajor ? majorLen : minorLen;
    const txt = label && isMajor;
    const ln = { stroke: "#000", strokeWidth: 1.3 };
    const tp = { fill: "#000", fontSize: fs, fontFamily: FONT };
    if (side === "bottom")
      return (
        <g>
          <line x1={x} y1={y} x2={x} y2={y + len} {...ln} />
          {txt && (
            <text x={x} y={y + len + gap + 0.72 * fs} textAnchor="middle" {...tp}>
              {fmt(v)}
            </text>
          )}
        </g>
      );
    if (side === "top") return <line x1={x} y1={y} x2={x} y2={y - len} {...ln} />;
    if (side === "left")
      return (
        <g>
          <line x1={x} y1={y} x2={x - len} y2={y} {...ln} />
          {txt && (
            <text x={x - len - gap} y={y + 0.36 * fs} textAnchor="end" {...tp}>
              {fmt(v)}
            </text>
          )}
        </g>
      );
    return <line x1={x} y1={y} x2={x + len} y2={y} {...ln} />;
  };

const crossMark = (s: number) => (p: any) => {
  const { cx, cy } = p;
  return (
    <path
      d={`M${cx - s},${cy - s}L${cx + s},${cy + s}M${cx - s},${cy + s}L${cx + s},${cy - s}`}
      stroke="#000"
      strokeWidth={1}
      fill="none"
    />
  );
};

const blueSquare = (p: any) => (
  <rect x={p.cx - 1.7} y={p.cy - 1.7} width={3.4} height={3.4} fill={BLUE} />
);

// dot with its red note; minX keeps the note inside the frame
const noteDot = (r: number, dy: number, fs: number, minX: number) => (p: any) => (
  <g>
    <circle cx={p.cx} cy={p.cy} r={r} fill="#000" />
    <text
      x={Math.max(p.cx, minX)}
      y={p.cy + dy}
      textAnchor="middle"
      fill={RED}
      fontWeight="bold"
      fontSize={fs}
      fontFamily={FONT}
    >
      {p.payload.note}
    </text>
  </g>
);

const spanMarkLeft = (p: any) => (
  <g>
    <path d={`M${p.cx - 4},${p.cy} A4,4 0 0 1 ${p.cx + 4},${p.cy} Z`} fill="#000" />
    <text x={p.cx} y={p.cy - 7} textAnchor="middle" fill={RED} fontWeight="bold" fontSize={19} fontFamily={FONT}>
      {p.payload.note}
    </text>
  </g>
);

const spanMarkRight = (p: any) => (
  <g>
    <circle cx={p.cx} cy={p.cy} r={6} fill="#000" />
    <text x={p.cx} y={p.cy - 25} textAnchor="middle" fill={RED} fontWeight="bold" fontSize={19} fontFamily={FONT}>
      {p.payload.note}
    </text>
  </g>
);

// axes are 1px thick so that Recharts still draws them; margins absorb that pixel
const axisBase = {
  type: "number" as const,
  allowDataOverflow: true,
  interval: 0 as const,
  tickSize: 0,
  tickMargin: 0,
  tickLine: false,
  axisLine,
};

const App = () => {
  const title = { fontFamily: FONT, fontWeight: "bold" as const, fontSize: 30, fill: "#000" };
  return (
    <div style={{ position: "absolute", left: 0, top: 0, width: 1488, height: 2105, background: "#fff" }}>
      {/* time series */}
      <div style={{ position: "absolute", left: 0, top: 0 }}>
        <ScatterChart width={1488} height={935} margin={{ top: 124, right: 65, bottom: 89, left: 161 }}>
          <XAxis {...axisBase} xAxisId="b" orientation="bottom" dataKey="x" domain={[61219, 61251]} ticks={mjdDays} height={1} tick={tickMaker("bottom", mjdMajor, 13, 6, true, 12, 30)} />
          <XAxis {...axisBase} xAxisId="t" orientation="top" dataKey="x" domain={[61219, 61251]} ticks={mjdDays} height={1} tick={tickMaker("top", mjdMajor, 14, 7)} />
          <YAxis {...axisBase} yAxisId="l" orientation="left" dataKey="y" domain={[-8.95, 11.98]} ticks={nsTicks} width={1} tick={tickMaker("left", nsTicks, 14, 0, true, 13, 30)} />
          <YAxis {...axisBase} yAxisId="r" orientation="right" dataKey="y" domain={[-8.95, 11.98]} ticks={nsTicks} width={1} tick={tickMaker("right", nsTicks, 13, 0)} />
          <Scatter data={blackPts} xAxisId="b" yAxisId="l" shape={crossMark(3)} isAnimationActive={false} />
          <Scatter data={bluePts} xAxisId="b" yAxisId="l" shape={blueSquare} isAnimationActive={false} />
        </ScatterChart>
      </div>

      {/* residuals */}
      <div style={{ position: "absolute", left: 0, top: 935 }}>
        <ScatterChart width={1488} height={560} margin={{ top: 17, right: 65, bottom: 92, left: 161 }}>
          <XAxis {...axisBase} xAxisId="b" orientation="bottom" dataKey="x" domain={[61219, 61251]} ticks={mjdDays} height={1} tick={tickMaker("bottom", mjdMajor, 13, 6, true, 13, 30)} />
          <XAxis {...axisBase} xAxisId="t" orientation="top" dataKey="x" domain={[61219, 61251]} ticks={mjdDays} height={1} tick={tickMaker("top", mjdMajor, 14, 7)} />
          <YAxis {...axisBase} yAxisId="l" orientation="left" dataKey="y" domain={[-4.5, 3.42]} ticks={resTicks} width={1} tick={tickMaker("left", resTicks, 14, 0, true, 9, 30)} />
          <YAxis {...axisBase} yAxisId="r" orientation="right" dataKey="y" domain={[-4.5, 3.42]} ticks={resTicks} width={1} tick={tickMaker("right", resTicks, 13, 0)} />
          <Scatter data={residPts} xAxisId="b" yAxisId="l" shape={crossMark(2.8)} isAnimationActive={false} />
        </ScatterChart>
      </div>

      {/* modified Allan deviation */}
      <div style={{ position: "absolute", left: 0, top: 1495 }}>
        <ScatterChart width={744} height={610} margin={{ top: 15, right: 34, bottom: 137, left: 168 }}>
          <XAxis {...axisBase} xAxisId="b" orientation="bottom" dataKey="x" domain={[3, 6]} ticks={logAll} height={1} tick={tickMaker("bottom", logMajor, 13, 6, true, 14, 29)} />
          <XAxis {...axisBase} xAxisId="t" orientation="top" dataKey="x" domain={[3, 6]} ticks={logAll} height={1} tick={tickMaker("top", logMajor, 13, 6)} />
          <YAxis {...axisBase} yAxisId="l" orientation="left" dataKey="y" domain={[-16.5, -10.5]} ticks={adevAll} width={1} tick={tickMaker("left", adevMajor, 11, 6, true, 16, 29)} />
          <YAxis {...axisBase} yAxisId="r" orientation="right" dataKey="y" domain={[-16.5, -10.5]} ticks={adevAll} width={1} tick={tickMaker("right", adevMajor, 13, 7)} />
          <Scatter data={adevSpans} xAxisId="b" yAxisId="l" shape={spanMarkLeft} isAnimationActive={false} />
          <Scatter data={adevPts} xAxisId="b" yAxisId="l" shape={noteDot(6, -8, 19, 184)} isAnimationActive={false} />
        </ScatterChart>
      </div>

      {/* time deviation */}
      <div style={{ position: "absolute", left: 744, top: 1495 }}>
        <ScatterChart width={744} height={610} margin={{ top: 15, right: 94, bottom: 138, left: 108 }}>
          <XAxis {...axisBase} xAxisId="b" orientation="bottom" dataKey="x" domain={[2.75, 6]} ticks={logAll} height={1} tick={tickMaker("bottom", logMajor, 13, 6, true, 14, 29)} />
          <XAxis {...axisBase} xAxisId="t" orientation="top" dataKey="x" domain={[2.75, 6]} ticks={logAll} height={1} tick={tickMaker("top", logMajor, 13, 6)} />
          <YAxis {...axisBase} yAxisId="l" orientation="left" dataKey="y" domain={[-10, -8.5]} ticks={tdevAll} width={1} tick={tickMaker("left", tdevMajor, 11, 6, true, 16, 29)} />
          <YAxis {...axisBase} yAxisId="r" orientation="right" dataKey="y" domain={[-10, -8.5]} ticks={tdevAll} width={1} tick={tickMaker("right", tdevMajor, 14, 7)} />
          <Scatter data={tdevSpans} xAxisId="b" yAxisId="l" shape={spanMarkRight} isAnimationActive={false} />
          <Scatter data={tdevPts} xAxisId="b" yAxisId="l" shape={noteDot(6.5, -30, 17, 0)} isAnimationActive={false} />
        </ScatterChart>
      </div>

      {/* titles and annotations */}
      <svg width={1488} height={2105} style={{ position: "absolute", left: 0, top: 0, pointerEvents: "none" }}>
        <text transform="translate(95,485) rotate(-90)" textAnchor="middle" {...title}>nanosecond</text>
        <text x={792} y={925} textAnchor="middle" {...title}>Modified Julian Date</text>
        <text x={202} y={813} {...title}>_2607_LIAAPT13_LI2PPT13.PPAA5</text>
        <text x={746} y={813} {...title}>
          GPS P3 (x<tspan fontSize={19} dy={9}>black</tspan>
          <tspan dy={-9}>)</tspan>
        </text>
        <text x={962} y={813} {...title}>,</text>
        <text x={987} y={813} {...title}>
          GPS P3 (o<tspan fontSize={19} dy={9}>blue</tspan>
          <tspan dy={-9}>)</tspan>
        </text>
        <text x={1201} y={813} {...title}>2776Ep</text>

        <text transform="translate(97,1177) rotate(-90)" textAnchor="middle" {...title}>residuals (ns)</text>
        <text x={792} y={1485} textAnchor="middle" {...title}>Modified Julian Date</text>
        <text x={201} y={1383} {...title} fontSize={25} xmlSpace="preserve" style={{ whiteSpace: "pre" }}>
          {"Max Smoothing Residual: _-3.520__2.415_-0.832  Sigma= 0.928ns"}
        </text>

        <text transform="translate(84,1739) rotate(-90)" textAnchor="middle" {...title}>
          Modified Allan Deviation (10<tspan fontSize={19} dy={-11}>-15</tspan>
          <tspan dy={11}>)</tspan>
        </text>
        <text x={213} y={1539} fontFamily={FONT} fontWeight="bold" fontSize={15} fill="#000">τ = 1055s</text>
        <text x={440} y={2047} textAnchor="middle" {...title}>Averaging time, log(τ) (s)</text>

        <text transform="translate(768,1740) rotate(-90)" textAnchor="middle" {...title}>
          Time deviation (10<tspan fontSize={19} dy={-11}>-10</tspan>
          <tspan dy={11}> s)</tspan>
        </text>
        <text x={1124} y={2047} textAnchor="middle" {...title}>Averaging time, log(τ) (s)</text>
      </svg>
    </div>
  );
};

export default App;
